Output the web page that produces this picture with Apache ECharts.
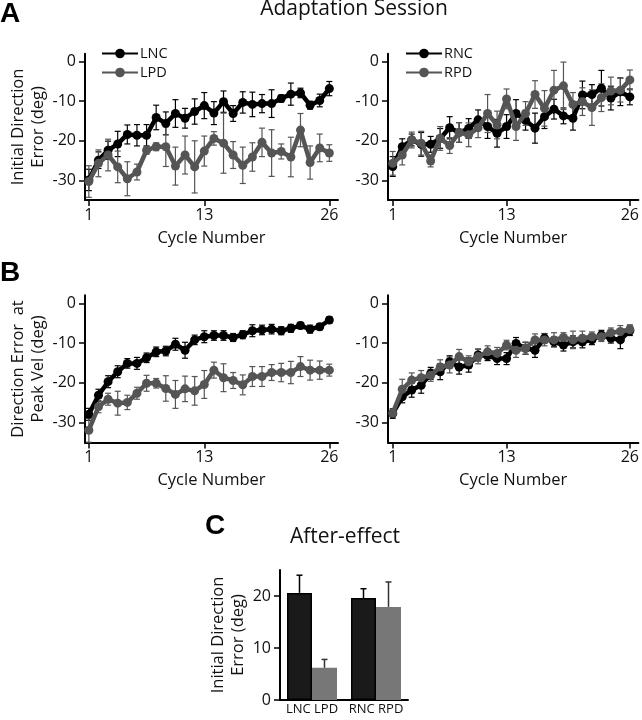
<!DOCTYPE html>
<html>
<head>
<meta charset="utf-8">
<script src="https://cdn.jsdelivr.net/npm/echarts@6/dist/echarts.min.js"></script>
<style>html,body{margin:0;padding:0;background:#fff}#c{width:642px;height:720px}</style>
</head>
<body>
<div id="c"></div>
<script>
// ---------- DATA ----------
const cycles = [1,2,3,4,5,6,7,8,9,10,11,12,13,14,15,16,17,18,19,20,21,22,23,24,25,26];
const xTicks = [1,13,26];
const yTicks = [-30,-20,-10,0];

// Panel A (Initial Direction Error)
const aLNC = [-29.9,-24.9,-22.4,-20.8,-18.4,-18.6,-18.6,-14.1,-15.6,-13.1,-14.3,-12.6,-11.1,-13.0,-10.1,-13.1,-10.3,-10.8,-10.6,-10.6,-9.3,-8.2,-7.9,-11.0,-9.8,-6.8];
const aLNCerr = [2.7,2.1,2.3,3.2,2.4,2.7,2.7,3.1,2.9,3.5,2.5,3.2,3.3,2.9,2.7,2.0,2.7,3.1,2.3,3.5,0.9,2.8,1.2,1.0,1.6,1.8];
const aLPD = [-30.3,-25.7,-23.6,-26.6,-29.6,-27.9,-22.4,-21.5,-21.5,-26.4,-23.6,-26.6,-22.6,-19.4,-20.6,-23.6,-26.2,-24.1,-20.4,-23.1,-22.7,-24.1,-17.3,-25.5,-21.8,-23.1];
const aLPDerr = [4.0,3.4,4.0,4.0,4.3,2.0,1.0,1.0,5.0,4.8,4.8,6.6,3.8,1.7,7.6,3.4,4.6,3.6,3.6,5.9,1.9,5.0,4.2,4.2,3.5,2.1];
const aRNC = [-26.5,-21.5,-19.8,-20.9,-20.9,-19.4,-16.7,-17.9,-16.9,-14.7,-16.4,-18.1,-16.4,-13.1,-14.8,-16.8,-13.9,-12.0,-13.7,-14.3,-8.4,-8.3,-6.7,-9.2,-7.6,-8.9];
const aRNCerr = [2.5,2.0,1.5,3.0,2.0,2.5,2.8,2.5,2.5,2.5,3.0,3.5,3.0,3.5,2.5,3.8,3.0,2.5,2.0,3.0,3.5,2.5,4.5,3.0,3.5,2.0];
const aRPD = [-25.7,-23.6,-19.8,-20.6,-25.1,-19.4,-21.2,-17.9,-18.5,-16.7,-13.1,-16.0,-9.4,-16.4,-13.1,-8.3,-11.8,-7.2,-6.1,-10.8,-10.1,-11.6,-9.1,-7.4,-7.2,-4.6];
const aRPDerr = [3.0,2.5,2.0,3.0,1.5,3.0,2.0,2.5,3.0,2.5,4.8,3.5,2.5,3.5,3.0,3.5,4.5,5.0,6.0,3.0,3.5,4.5,3.5,3.5,3.0,2.5];

// Panel B (Direction Error at Peak Vel)
const bLNC = [-27.9,-23.1,-19.7,-17.2,-15.1,-15.1,-13.7,-12.2,-12.0,-10.3,-11.8,-9.2,-8.4,-8.1,-8.1,-8.6,-7.9,-6.9,-6.7,-6.5,-6.9,-6.3,-5.6,-6.5,-5.9,-4.2];
const bLNCerr = [1.5,1.5,1.5,1.5,1.2,1.5,1.2,1.2,1.2,1.5,2.0,1.2,1.5,1.2,1.2,1.0,1.0,1.5,1.2,1.2,1.0,1.0,0.8,1.0,0.8,0.8];
const bLPD = [-31.9,-26.0,-24.1,-25.1,-24.9,-22.6,-20.1,-20.1,-21.4,-22.9,-21.5,-22.0,-20.4,-16.8,-18.7,-19.4,-20.5,-18.4,-18.4,-17.4,-17.4,-17.4,-15.9,-16.8,-16.8,-16.8];
const bLPDerr = [3.0,1.5,1.5,3.0,1.8,1.5,2.0,1.2,3.2,3.5,3.2,3.6,3.5,2.0,3.5,2.0,2.5,2.5,2.5,2.0,2.3,2.8,2.5,2.5,2.3,1.5];
const bRNC = [-27.7,-23.5,-21.8,-20.6,-17.6,-17.2,-14.7,-16.0,-15.5,-13.0,-13.2,-13.9,-13.9,-10.1,-11.3,-11.8,-8.8,-9.7,-10.5,-9.7,-9.7,-9.2,-8.0,-8.8,-9.2,-6.9];
const bRNCerr = [1.2,1.5,1.8,2.0,1.5,2.0,1.5,1.8,1.8,1.5,1.2,1.5,1.5,1.5,1.5,1.8,1.2,1.2,1.5,1.5,1.5,1.2,1.2,1.2,2.2,1.2];
const bRPD = [-27.6,-21.6,-19.3,-18.7,-18.1,-16.0,-15.5,-13.4,-14.7,-13.4,-12.2,-12.6,-10.5,-11.8,-11.3,-9.2,-9.2,-9.2,-8.6,-9.2,-8.8,-8.4,-8.4,-7.4,-7.1,-6.6];
const bRPDerr = [1.0,2.5,1.8,1.8,1.5,1.8,2.0,1.8,1.5,1.8,1.5,1.5,1.2,1.8,1.5,1.5,1.5,1.8,1.2,2.2,1.8,1.2,1.2,1.2,1.5,1.2];

// Panel C (After-effect)
const cCats = ['LNC LPD','RNC RPD'];
const cNC = [20.6, 19.6];
const cNCerr = [3.4, 1.8];
const cPD = [6.2, 17.9];
const cPDerr = [1.6, 4.8];
const cTicks = [0,10,20];

// ---------- STYLE ----------
const FONT = 'Open Sans';
const BLACK = '#000000';
const GRAY = '#555555';
const BAR_BLACK = '#1a1a1a';
const BAR_GRAY = '#777777';

const chart = echarts.init(document.getElementById('c'), null, {renderer:'canvas'});

function xAxisCfg(gi, min, max, showName) {
  return {
    type:'value', gridIndex:gi, min:min, max:max,
    axisLine:{show:true, onZero:false, lineStyle:{color:'#000', width:2}},
    axisTick:{show:true, length:6, inside:false, lineStyle:{color:'#000', width:1.5}, customValues:xTicks},
    axisLabel:{customValues:xTicks, color:'#111', fontFamily:FONT, fontSize:16, margin:7},
    splitLine:{show:false},
    name: showName ? 'Cycle Number' : '', nameLocation:'middle', nameGap:28,
    nameTextStyle:{fontFamily:FONT, fontSize:16.5, color:'#111', lineHeight:20}
  };
}
function yAxisCfg(gi, name) {
  return {
    type:'value', gridIndex:gi, min:-35, max:2,
    axisLine:{show:true, onZero:false, lineStyle:{color:'#000', width:2}},
    axisTick:{show:true, length:6, inside:false, lineStyle:{color:'#000', width:1.5}, customValues:yTicks},
    axisLabel:{customValues:yTicks, color:'#111', fontFamily:FONT, fontSize:16, margin:9},
    splitLine:{show:false},
    name: name || '', nameLocation:'middle', nameRotate:90, nameGap:36,
    nameTextStyle:{fontFamily:FONT, fontSize:16.5, color:'#111', lineHeight:20, align:'center'}
  };
}

function lineSeries(name, idx, vals, color, z) {
  return {
    type:'line', name:name, xAxisIndex:idx, yAxisIndex:idx,
    data: cycles.map((c,i)=>[c, vals[i]]),
    symbol:'circle', symbolSize:9, showSymbol:true,
    lineStyle:{color:color, width:4.5},
    itemStyle:{color:color, borderWidth:0},
    z:z, animation:false, silent:true
  };
}
function errSeries(idx, vals, errs, color, z) {
  return {
    type:'custom', xAxisIndex:idx, yAxisIndex:idx, z:z, silent:true, animation:false,
    data: cycles.map((c,i)=>[c, vals[i]-errs[i], vals[i]+errs[i]]),
    encode:{x:0, y:[1,2]},
    renderItem:function(params, api){
      const x = api.value(0);
      const lo = api.coord([x, api.value(1)]);
      const hi = api.coord([x, api.value(2)]);
      const w = 3;
      const st = {stroke:color, lineWidth:1.2};
      return {type:'group', children:[
        {type:'line', shape:{x1:lo[0], y1:lo[1], x2:hi[0], y2:hi[1]}, style:st},
        {type:'line', shape:{x1:lo[0]-w, y1:lo[1], x2:lo[0]+w, y2:lo[1]}, style:st},
        {type:'line', shape:{x1:hi[0]-w, y1:hi[1], x2:hi[0]+w, y2:hi[1]}, style:st}
      ]};
    }
  };
}
function barErr(vals, errs, offset, color) {
  return {
    type:'custom', xAxisIndex:4, yAxisIndex:4, z:5, silent:true, animation:false,
    data: vals.map((v,i)=>[i, v, v+errs[i]]),
    encode:{x:0, y:[1,2]},
    renderItem:function(params, api){
      const top = api.coord([api.value(0), api.value(1)]);
      const hi = api.coord([api.value(0), api.value(2)]);
      const x = top[0] + offset;
      const st = {stroke:color, lineWidth:1.5};
      return {type:'group', children:[
        {type:'line', shape:{x1:x, y1:top[1], x2:x, y2:hi[1]}, style:st},
        {type:'line', shape:{x1:x-3, y1:hi[1], x2:x+3, y2:hi[1]}, style:st}
      ]};
    }
  };
}

const option = {
  animation:false,
  backgroundColor:'#ffffff',
  textStyle:{fontFamily:FONT},
  title:[
    {text:'Adaptation Session', left:354, top:-1, textAlign:'center', padding:0,
     textStyle:{fontFamily:FONT, fontSize:21, fontWeight:'normal', color:'#111'}},
    {text:'A', left:0, top:0, padding:0, textStyle:{fontFamily:'Liberation Sans', fontSize:28, fontWeight:'bold', color:'#000'}},
    {text:'B', left:0, top:259, padding:0, textStyle:{fontFamily:'Liberation Sans', fontSize:28, fontWeight:'bold', color:'#000'}},
    {text:'C', left:205, top:512, padding:0, textStyle:{fontFamily:'Liberation Sans', fontSize:28, fontWeight:'bold', color:'#000'}},
    {text:'After-effect', left:345, top:527, textAlign:'center', padding:0,
     textStyle:{fontFamily:FONT, fontSize:21, fontWeight:'normal', color:'#111'}}
  ],
  legend:[
    {data:['LNC','LPD'], orient:'vertical', left:96, top:41, itemWidth:36, itemHeight:12, itemGap:4,
     textStyle:{fontFamily:FONT, fontSize:14.5, color:'#111', lineHeight:14, padding:[0,0,0,-3]}, selectedMode:false},
    {data:['RNC','RPD'], orient:'vertical', left:400, top:41, itemWidth:36, itemHeight:12, itemGap:4,
     textStyle:{fontFamily:FONT, fontSize:14.5, color:'#111', lineHeight:14, padding:[0,0,0,-3]}, selectedMode:false}
  ],
  grid:[
    {left:85, top:53.8, width:253, height:146.3},
    {left:388, top:53.8, width:252, height:146.3},
    {left:85, top:295.3, width:253, height:147.3},
    {left:388, top:295.3, width:252, height:147.3},
    {left:280, top:570, width:128, height:130}
  ],
  xAxis:[
    xAxisCfg(0, 0.6, 26.9, true),
    xAxisCfg(1, 0.5, 26.9, true),
    xAxisCfg(2, 0.6, 26.9, true),
    xAxisCfg(3, 0.5, 26.9, true),
    {type:'category', gridIndex:4, data:cCats,
     axisLine:{show:true, lineStyle:{color:'#000', width:2}},
     axisTick:{show:false},
     axisLabel:{interval:0, color:'#111', fontFamily:FONT, fontSize:13, margin:3}}
  ],
  yAxis:[
    yAxisCfg(0, 'Initial Direction\nError (deg)'),
    yAxisCfg(1, ''),
    yAxisCfg(2, 'Direction Error  at\nPeak Vel (deg)'),
    yAxisCfg(3, ''),
    {type:'value', gridIndex:4, min:0, max:25,
     axisLine:{show:true, lineStyle:{color:'#000', width:2}},
     axisTick:{show:true, length:6, lineStyle:{color:'#000', width:1.5}, customValues:cTicks},
     axisLabel:{customValues:cTicks, color:'#111', fontFamily:FONT, fontSize:16, margin:9},
     splitLine:{show:false},
     name:'Initial Direction\nError (deg)', nameLocation:'middle', nameRotate:90, nameGap:32,
     nameTextStyle:{fontFamily:FONT, fontSize:16.5, color:'#111', lineHeight:20, align:'center'}}
  ],
  series:[
    errSeries(0, aLNC, aLNCerr, BLACK, 2),
    errSeries(0, aLPD, aLPDerr, GRAY, 2),
    lineSeries('LNC', 0, aLNC, BLACK, 3),
    lineSeries('LPD', 0, aLPD, GRAY, 4),

    errSeries(1, aRNC, aRNCerr, BLACK, 2),
    errSeries(1, aRPD, aRPDerr, GRAY, 2),
    lineSeries('RNC', 1, aRNC, BLACK, 3),
    lineSeries('RPD', 1, aRPD, GRAY, 4),

    errSeries(2, bLNC, bLNCerr, BLACK, 2),
    errSeries(2, bLPD, bLPDerr, GRAY, 2),
    lineSeries('LNC B', 2, bLNC, BLACK, 3),
    lineSeries('LPD B', 2, bLPD, GRAY, 4),

    errSeries(3, bRNC, bRNCerr, BLACK, 2),
    errSeries(3, bRPD, bRPDerr, GRAY, 2),
    lineSeries('RNC B', 3, bRNC, BLACK, 3),
    lineSeries('RPD B', 3, bRPD, GRAY, 4),

    {type:'bar', name:'NC', xAxisIndex:4, yAxisIndex:4, data:cNC, barWidth:25, barGap:'0%',
     itemStyle:{color:BAR_BLACK, borderColor:'#000', borderWidth:1.5}, z:3, silent:true},
    {type:'bar', name:'PD', xAxisIndex:4, yAxisIndex:4, data:cPD, barWidth:25, barGap:'0%',
     itemStyle:{color:BAR_GRAY}, z:3, silent:true},
    barErr(cNC, cNCerr, -12.5, '#000'),
    barErr(cPD, cPDerr, 12.5, '#333')
  ]
};
chart.setOption(option);
</script>
</body>
</html>
